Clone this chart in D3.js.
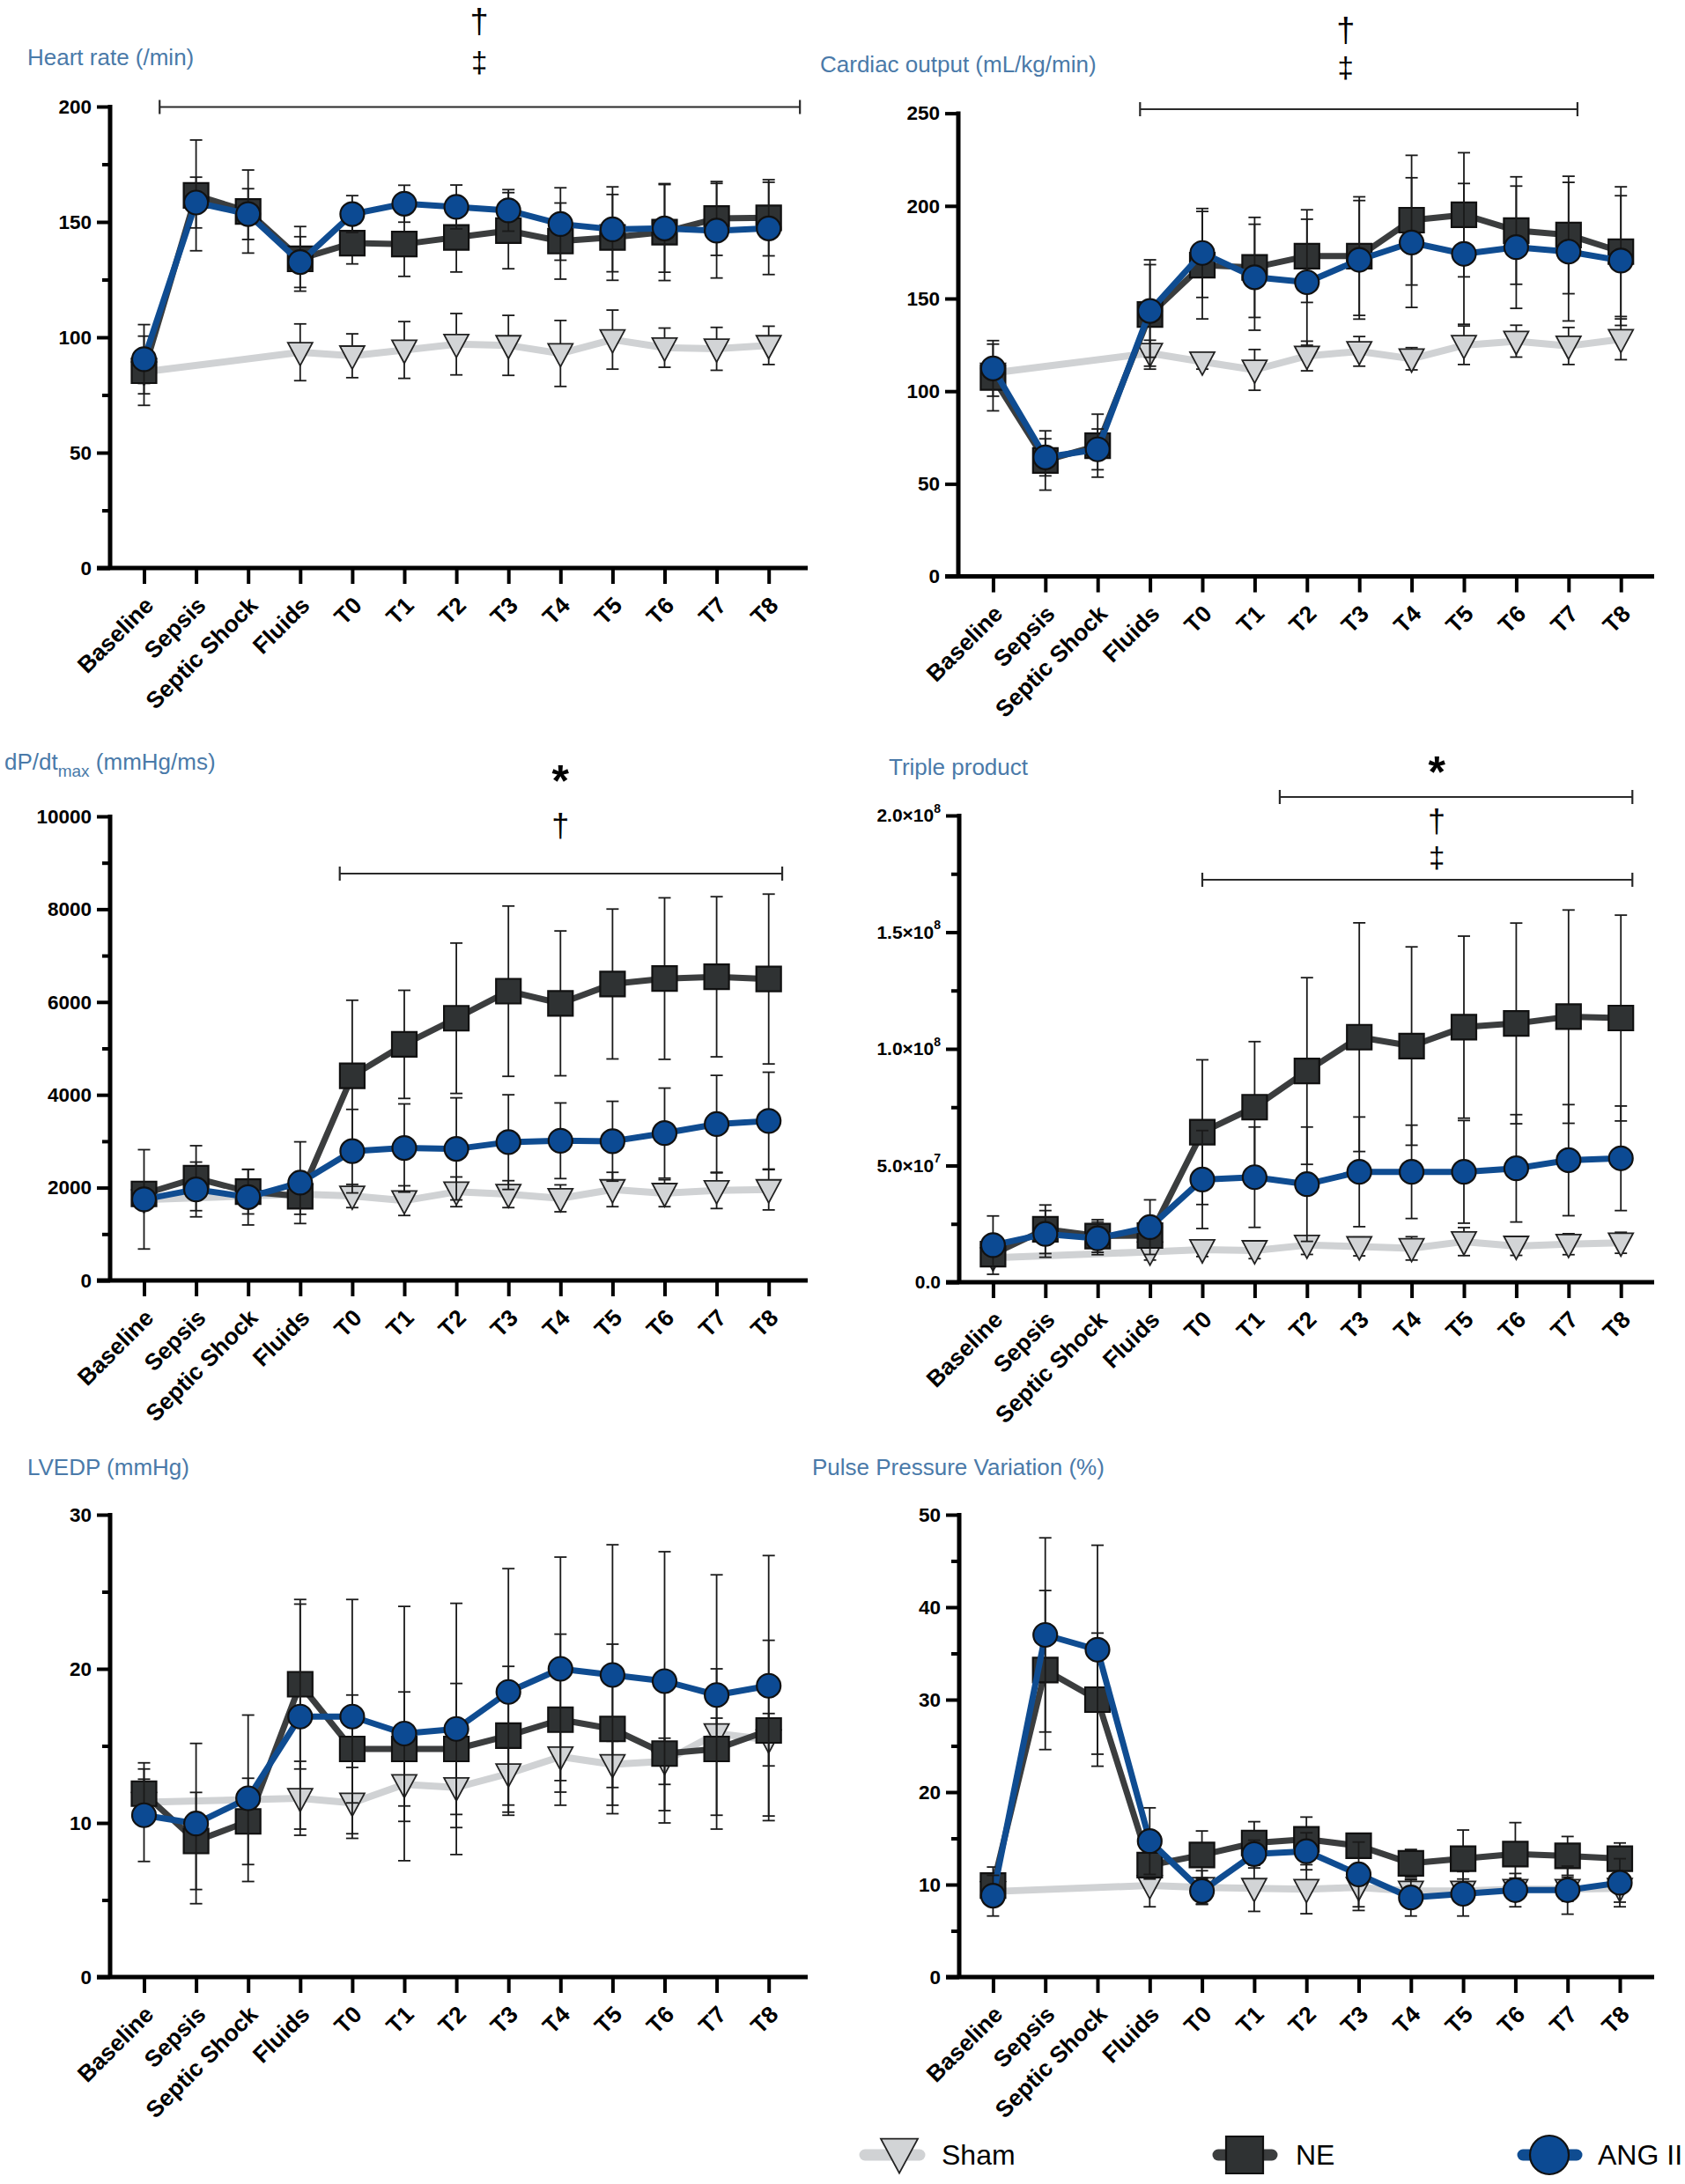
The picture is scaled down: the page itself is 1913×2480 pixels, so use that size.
<!DOCTYPE html>
<html><head><meta charset="utf-8">
<script src="https://cdn.jsdelivr.net/npm/d3@7"></script>
<style>body{margin:0;background:#fff}svg{display:block}</style>
</head><body>
<svg id="fig" width="1913" height="2480"></svg>
<script>
// ---------------- DATA ----------------
const categories = ["Baseline","Sepsis","Septic Shock","Fluids","T0","T1","T2","T3","T4","T5","T6","T7","T8"];
const seriesNames = ["Sham","NE","ANG II"];

// Heart rate (/min)
const hrSham   = [85, null, null, 93.5, 92, 94.5, 97, 96.5, 93, 99, 95.5, 95, 96.5];
const hrShamSD = [5, null, null, 12.3, 9.5, 12.3, 13.3, 13, 14.3, 12.8, 8.5, 9.3, 8.3];
const hrNE     = [85.5, 161.5, 154.5, 134, 140.8, 140.4, 143.3, 146.2, 141.7, 143.3, 145.6, 151.5, 151.8];
const hrNESD   = [15, 24, 18, 14, 9, 14, 15, 16.5, 16.5, 18.6, 21, 16, 16.5];
const hrANG    = [90.5, 158.4, 153.4, 132.6, 153.4, 157.9, 156.5, 155, 149.1, 146.8, 147.2, 146.2, 147.2];
const hrANGSD  = [15, 11, 11, 11, 8, 8, 9.5, 9, 15.7, 18.4, 19, 20.5, 20];
const hrTicks = [0, 50, 100, 150, 200];
const hrMinor = [25, 75, 125, 175];

// Cardiac output (mL/kg/min)
const coSham   = [109.8, null, null, 120.5, 115.9, 111.5, 119, 121.5, 117.5, 124.8, 127, 124.4, 128];
const coShamSD = [5, null, null, 7, 4, 11, 8, 8, 6, 10.4, 8.6, 10, 11];
const coNE     = [107.4, 62.6, 70.6, 141.4, 168, 166.8, 172.9, 172.9, 192.3, 195.2, 186.7, 184.3, 175.3];
const coNESD   = [18, 16, 17, 29.5, 29, 27, 25, 32, 35, 33.5, 29, 31.7, 35];
const coANG    = [112.3, 64.3, 68.6, 143.3, 174.6, 161.5, 158.8, 170.9, 180.2, 174.1, 177.7, 175.3, 170.5];
const coANGSD  = [15, 10, 11, 25, 24, 28.6, 34, 32, 35, 38, 33, 37.4, 35];
const coTicks = [0, 50, 100, 150, 200, 250];
const coMinor = [];

// dP/dt max (mmHg/ms)
const dpSham   = [1740, null, null, 1860, 1820, 1720, 1910, 1860, 1770, 1960, 1880, 1940, 1960];
const dpShamSD = [150, null, null, 300, 250, 320, 320, 290, 290, 370, 290, 390, 440];
const dpNE     = [1864, 2204, 1913, 1816, 4408, 5087, 5650, 6233, 5971, 6388, 6505, 6544, 6495];
const dpNESD   = [200, 700, 480, 390, 1630, 1165, 1620, 1835, 1560, 1615, 1740, 1725, 1830];
const dpANG    = [1748, 1961, 1796, 2107, 2786, 2854, 2835, 2981, 3010, 3000, 3175, 3369, 3437];
const dpANGSD  = [1070, 590, 600, 880, 900, 950, 1100, 1020, 815, 860, 970, 1050, 1050];
const dpTicks = [0, 2000, 4000, 6000, 8000, 10000];
const dpMinor = [1000, 3000, 5000, 7000, 9000];

// Triple product
const tpSham   = [1.05e7, null, null, 1.3e7, 1.4e7, 1.36e7, 1.59e7, 1.53e7, 1.45e7, 1.74e7, 1.55e7, 1.63e7, 1.69e7];
const tpShamSD = [0.3e7, null, null, 0.35e7, 0.3e7, 0.35e7, 0.4e7, 0.4e7, 0.5e7, 0.6e7, 0.4e7, 0.45e7, 0.45e7];
const tpNE     = [1.2e7, 2.27e7, 1.98e7, 2.0e7, 6.43e7, 7.5e7, 9.05e7, 10.5e7, 10.12e7, 10.93e7, 11.09e7, 11.38e7, 11.32e7];
const tpNESD   = [0.5e7, 1.04e7, 0.7e7, 0.5e7, 3.1e7, 2.81e7, 4.0e7, 4.9e7, 4.25e7, 3.9e7, 4.3e7, 4.57e7, 4.41e7];
const tpANG    = [1.59e7, 2.07e7, 1.88e7, 2.36e7, 4.4e7, 4.5e7, 4.2e7, 4.73e7, 4.73e7, 4.73e7, 4.88e7, 5.23e7, 5.31e7];
const tpANGSD  = [1.25e7, 1.0e7, 0.7e7, 1.17e7, 2.1e7, 2.15e7, 2.45e7, 2.35e7, 2.0e7, 2.2e7, 2.3e7, 2.38e7, 2.24e7];
const tpTicks = [0, 5e7, 1e8, 1.5e8, 2e8];
const tpTickLabels = [["0.0",""], ["5.0×10","7"], ["1.0×10","8"], ["1.5×10","8"], ["2.0×10","8"]];
const tpMinor = [2.5e7, 7.5e7, 1.25e8, 1.75e8];

// LVEDP (mmHg)
const lvSham   = [11.34, null, null, 11.6, 11.3, 12.5, 12.3, 13.2, 14.3, 13.8, 14.0, 15.8, 15.4];
const lvShamSD = [1.5, null, null, 2.4, 2.3, 2.4, 2.6, 2.5, 2.3, 1.5, 1.5, 1.0, 1.7];
const lvNE     = [11.9, 8.83, 10.1, 19, 14.8, 14.8, 14.8, 15.66, 16.7, 16.1, 14.5, 14.8, 16.0];
const lvNESD   = [2, 3.15, 2.8, 5.5, 3.5, 3.7, 4.25, 4.5, 5.55, 5.5, 4.5, 5.2, 5.85];
const lvANG    = [10.5, 9.96, 11.6, 16.9, 16.9, 15.8, 16.1, 18.5, 20, 19.6, 19.2, 18.3, 18.9];
const lvANGSD  = [3, 5.2, 5.4, 7.3, 7.6, 8.25, 8.15, 8, 7.25, 8.45, 8.4, 7.8, 8.45];
const lvTicks = [0, 10, 20, 30];
const lvMinor = [5, 15, 25];

// Pulse Pressure Variation (%)
const ppSham   = [9.25, null, null, 9.9, 9.7, 9.6, 9.5, 9.7, 9.3, 9.3, 9.5, 9.5, 9.6];
const ppShamSD = [1, null, null, 2.3, 1.8, 2.5, 2.65, 2.5, 1.2, 1.3, 1.2, 1.3, 1.5];
const ppNE     = [9.9, 33.2, 30, 12.1, 13.2, 14.5, 14.9, 14.2, 12.3, 12.8, 13.3, 13.1, 12.8];
const ppNESD   = [2, 8.6, 7.2, 1.5, 2.6, 2.3, 2.4, 1, 1.5, 3.1, 3.4, 2.1, 1.7];
const ppANG    = [8.8, 37, 35.4, 14.7, 9.3, 13.3, 13.6, 11.1, 8.6, 9.0, 9.4, 9.4, 10.2];
const ppANGSD  = [2.2, 10.5, 11.3, 3.6, 1.45, 1.5, 2, 3.5, 2, 2.4, 1.8, 2.6, 2.6];
const ppTicks = [0, 10, 20, 30, 40, 50];
const ppMinor = [5, 15, 25, 35, 45];

// ---------------- STYLE / LAYOUT ----------------
const FONT = "'Liberation Sans', Arial, Helvetica, sans-serif";
const TITLE_COLOR = "#4a7aa9";
const STY = {
  "Sham":   {line:"#d0d2d4", lw:8, fill:"#d2d4d6", stroke:"#222", shape:"tri"},
  "NE":     {line:"#3b3d3e", lw:7, fill:"#2f3233", stroke:"#111", shape:"sq"},
  "ANG II": {line:"#0f4c91", lw:7, fill:"#0c4a93", stroke:"#111", shape:"circ"}
};

const svg = d3.select("#fig");
svg.append("rect").attr("width",1913).attr("height",2480).attr("fill","#fff");

function markerPath(shape, s) {
  if (shape === "tri") {
    const w = s, h = s*0.93;
    return `M${-w/2},${-h*0.42} L${w/2},${-h*0.42} L0,${h*0.58} Z`;
  }
  if (shape === "sq") return `M${-s/2},${-s/2} h${s} v${s} h${-s} Z`;
  return null;
}

function drawMarker(g, shape, cx, cy, s, st) {
  if (shape === "circ") {
    g.append("circle").attr("cx",cx).attr("cy",cy).attr("r",s/2)
      .attr("fill",st.fill).attr("stroke",st.stroke).attr("stroke-width",2.2);
  } else {
    g.append("path").attr("d",markerPath(shape,s)).attr("transform",`translate(${cx},${cy})`)
      .attr("fill",st.fill).attr("stroke",st.stroke).attr("stroke-width",shape==="tri"?1.8:2.2)
      .attr("stroke-linejoin","miter");
  }
}

function panel(cfg) {
  const n = categories.length;
  const x = d3.scaleLinear().domain([0, n-1]).range([cfg.x0, cfg.x0 + cfg.step*(n-1)]);
  const y = d3.scaleLinear().domain([0, cfg.max]).range([cfg.yBottom, cfg.yTop]);
  const g = svg.append("g");

  // title
  const t = g.append("text").attr("x",cfg.titleX).attr("y",cfg.titleY)
    .attr("font-family",FONT).attr("font-size",26).attr("fill",TITLE_COLOR);
  cfg.title.forEach(p => {
    const ts = t.append("tspan").text(p.t);
    if (p.size) ts.attr("font-size",p.size);
    if (p.dy) ts.attr("dy",p.dy);
  });

  // y axis
  const ya = g.append("g").attr("transform",`translate(${cfg.yAxisX},0)`)
    .call(d3.axisLeft(y).tickValues(cfg.ticks).tickSize(15).tickSizeOuter(0).tickPadding(6)
      .tickFormat(cfg.tickLabels ? (()=>"") : d3.format("d")));
  ya.select(".domain").attr("stroke","#000").attr("stroke-width",5).attr("d",`M0,${y(0)+2}V${y(cfg.max)-2}`);
  ya.selectAll(".tick line").attr("stroke","#000").attr("stroke-width",4);
  ya.selectAll(".tick text").attr("font-family",FONT).attr("font-weight","bold").attr("font-size",22.5).attr("fill","#000");
  if (cfg.tickLabels) {
    ya.selectAll(".tick text").attr("font-size",21).each(function(d,i){
      const el = d3.select(this); el.text(null);
      const lab = cfg.tickLabels[i];
      el.append("tspan").text(lab[0]);
      if (lab[1]) el.append("tspan").text(lab[1]).attr("font-size",14).attr("dy","-0.75em");
    });
  }
  if (cfg.minor.length) {
    const ym = g.append("g").attr("transform",`translate(${cfg.yAxisX},0)`)
      .call(d3.axisLeft(y).tickValues(cfg.minor).tickSize(9).tickSizeOuter(0).tickFormat(()=>""));
    ym.select(".domain").remove();
    ym.selectAll(".tick line").attr("stroke","#000").attr("stroke-width",4);
  }

  // x axis
  const xa = g.append("g").attr("transform",`translate(0,${cfg.yBottom})`)
    .call(d3.axisBottom(x).tickValues(d3.range(n)).tickSize(18).tickSizeOuter(0).tickFormat(i=>categories[i]));
  xa.select(".domain").attr("stroke","#000").attr("stroke-width",5).attr("d",`M${cfg.yAxisX-15},0H${cfg.xEnd}`);
  xa.selectAll(".tick line").attr("stroke","#000").attr("stroke-width",4);
  xa.selectAll(".tick text").attr("font-family",FONT).attr("font-weight","bold").attr("font-size",26.5)
    .attr("fill","#000").attr("text-anchor","end")
    .attr("y",0).attr("dy",0)
    .attr("transform","translate(12,44) rotate(-45)");

  // series
  seriesNames.forEach(name => {
    const [vals, sds] = cfg.data[name];
    const st = STY[name];
    const pts = vals.map((v,i)=>({i, v, sd: sds[i]})).filter(p=>p.v!==null);
    const sg = g.append("g");
    sg.append("path").datum(pts)
      .attr("d", d3.line().x(p=>x(p.i)).y(p=>y(p.v)))
      .attr("fill","none").attr("stroke",st.line).attr("stroke-width",st.lw)
      .attr("stroke-linejoin","round");
    pts.forEach(p => {
      const yt = y(p.v + p.sd), yb = y(Math.max(0, p.v - p.sd)), cx = x(p.i);
      sg.append("line").attr("x1",cx).attr("x2",cx).attr("y1",yt).attr("y2",yb)
        .attr("stroke","#1a1a1a").attr("stroke-width",1.8);
      [yt, yb].forEach(yy => sg.append("line").attr("x1",cx-7).attr("x2",cx+7).attr("y1",yy).attr("y2",yy)
        .attr("stroke","#1a1a1a").attr("stroke-width",1.8));
    });
    pts.forEach(p => drawMarker(sg, st.shape, x(p.i), y(p.v), st.shape==="circ"?27:28, st));
  });

  // significance bars
  cfg.bars.forEach(b => {
    const x1 = x(b.from), x2 = x(b.to);
    g.append("line").attr("x1",x1).attr("x2",x2).attr("y1",b.y).attr("y2",b.y).attr("stroke","#2a2a2a").attr("stroke-width",2.2);
    [x1,x2].forEach(xx => g.append("line").attr("x1",xx).attr("x2",xx).attr("y1",b.y-8).attr("y2",b.y+8).attr("stroke","#2a2a2a").attr("stroke-width",2.2));
  });
  // significance symbols
  cfg.marks.forEach(m => {
    g.append("text").attr("x",x(cfg.markAt)).attr("y",m.y).attr("text-anchor","middle")
      .attr("font-family",FONT).attr("font-size",m.size).attr("font-weight",m.bold?"bold":"normal")
      .attr("fill","#000").text(m.t);
  });
}

const panels = [
  {title:[{t:"Heart rate (/min)"}], titleX:31, titleY:74,
   yAxisX:125, x0:163.5, step:59.1, xEnd:917, yTop:121, yBottom:645, max:200,
   ticks:hrTicks, minor:hrMinor,
   data:{"Sham":[hrSham,hrShamSD], "NE":[hrNE,hrNESD], "ANG II":[hrANG,hrANGSD]},
   bars:[{from:0.30, to:12.6, y:121.5}], markAt:6.44,
   marks:[{t:"†", y:37, size:38}, {t:"‡", y:82, size:33}]},
  {title:[{t:"Cardiac output (mL/kg/min)"}], titleX:931, titleY:82,
   yAxisX:1088, x0:1127.4, step:59.4, xEnd:1878, yTop:128.6, yBottom:654.6, max:250,
   ticks:coTicks, minor:coMinor,
   data:{"Sham":[coSham,coShamSD], "NE":[coNE,coNESD], "ANG II":[coANG,coANGSD]},
   bars:[{from:2.81, to:11.17, y:124}], markAt:6.74,
   marks:[{t:"†", y:47, size:38}, {t:"‡", y:88, size:33}]},
  {title:[{t:"dP/dt"}, {t:"max", size:19, dy:8}, {t:" (mmHg/ms)", size:26, dy:-8}], titleX:5, titleY:874,
   yAxisX:125, x0:163.5, step:59.1, xEnd:917, yTop:927, yBottom:1454, max:10000,
   ticks:dpTicks, minor:dpMinor,
   data:{"Sham":[dpSham,dpShamSD], "NE":[dpNE,dpNESD], "ANG II":[dpANG,dpANGSD]},
   bars:[{from:3.76, to:12.26, y:992}], markAt:8.0,
   marks:[{t:"*", y:904, size:50, bold:true}, {t:"†", y:950, size:36}]},
  {title:[{t:"Triple product"}], titleX:1009, titleY:880,
   yAxisX:1089, x0:1127.4, step:59.4, xEnd:1878, yTop:926, yBottom:1456, max:2e8,
   ticks:tpTicks, tickLabels:tpTickLabels, minor:tpMinor,
   data:{"Sham":[tpSham,tpShamSD], "NE":[tpNE,tpNESD], "ANG II":[tpANG,tpANGSD]},
   bars:[{from:5.48, to:12.22, y:905}, {from:4.0, to:12.22, y:999}], markAt:8.48,
   marks:[{t:"*", y:894, size:50, bold:true}, {t:"†", y:945, size:36}, {t:"‡", y:985, size:33}]},
  {title:[{t:"LVEDP (mmHg)"}], titleX:31, titleY:1675,
   yAxisX:125, x0:163.5, step:59.1, xEnd:917, yTop:1720, yBottom:2245, max:30,
   ticks:lvTicks, minor:lvMinor,
   data:{"Sham":[lvSham,lvShamSD], "NE":[lvNE,lvNESD], "ANG II":[lvANG,lvANGSD]},
   bars:[], marks:[]},
  {title:[{t:"Pulse Pressure Variation (%)"}], titleX:922, titleY:1675,
   yAxisX:1089, x0:1127.4, step:59.3, xEnd:1878, yTop:1720, yBottom:2245, max:50,
   ticks:ppTicks, minor:ppMinor,
   data:{"Sham":[ppSham,ppShamSD], "NE":[ppNE,ppNESD], "ANG II":[ppANG,ppANGSD]},
   bars:[], marks:[]}
];
panels.forEach(panel);

// ---------------- LEGEND ----------------
const legendItems = [
  {name:"Sham", lx1:982, lx2:1044, mx:1021, tx:1069},
  {name:"NE", lx1:1383, lx2:1444, mx:1413, tx:1471},
  {name:"ANG II", lx1:1729, lx2:1790, mx:1759, tx:1814}
];
const LY = 2447;
const lg = svg.append("g");
legendItems.forEach(it => {
  const st = STY[it.name];
  lg.append("line").attr("x1",it.lx1).attr("x2",it.lx2).attr("y1",LY).attr("y2",LY)
    .attr("stroke",st.line).attr("stroke-width",13).attr("stroke-linecap","round");
  drawMarker(lg, st.shape, it.mx, st.shape==="tri"? LY-2 : LY, st.shape==="circ"?44:42, st);
  lg.append("text").attr("x",it.tx).attr("y",LY+11).attr("font-family",FONT).attr("font-size",32)
    .attr("fill","#000").text(it.name);
});
</script>
</body></html>
